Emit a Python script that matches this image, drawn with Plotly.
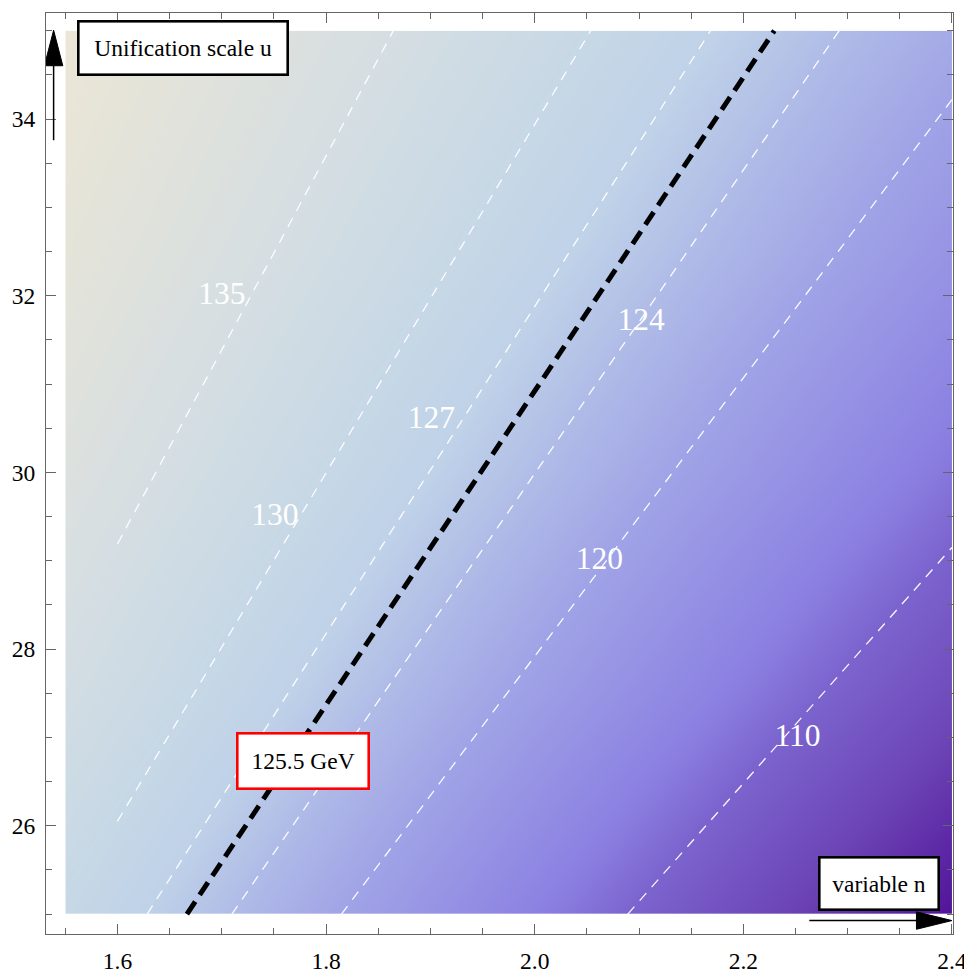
import plotly.graph_objects as go

# ---- background field: Higgs mass (GeV) estimated on a coarse grid ----
n_grid = [1.55, 1.7625, 1.975, 2.1875, 2.40]
u_grid = [25.0, 27.5, 30.0, 32.5, 35.0]
mass_grid = [
    [129.8, 122.0, 114.2, 106.4, 98.6],
    [134.1, 127.0, 120.0, 112.9, 105.9],
    [137.6, 131.2, 124.8, 118.3, 111.9],
    [140.6, 134.7, 128.8, 122.9, 117.0],
    [143.1, 137.6, 132.2, 126.7, 121.2],
]

# ---- labelled contour lines (white dashed), endpoints ----
contour_levels = [135, 130, 127, 124, 120, 110]
contour_n = [[1.600, 1.8645], [1.600, 2.0538], [1.6285, 2.1686],
             [1.7097, 2.2919], [1.8148, 2.400], [2.0892, 2.400]]
contour_u = [[29.19, 35.0], [26.05, 35.0], [25.0, 35.0],
             [25.0, 35.0], [25.0, 34.22], [25.0, 29.15]]
label_n = [1.700, 1.751, 1.901, 2.102, 2.062, 2.252]
label_u = [31.99, 29.49, 30.59, 31.70, 29.00, 26.99]

# ---- 125.5 GeV line (thick black dashed) ----
target_n = [1.6666, 2.2297]
target_u = [25.0, 35.0]

x_ticks = [1.6, 1.8, 2.0, 2.2, 2.4]
y_ticks = [26, 28, 30, 32, 34]

FONT = "Liberation Serif"

colorscale = [
    [0.000, "#4C0C8E"],
    [0.013, "#52149A"],
    [0.141, "#6C44B5"],
    [0.261, "#7C64CE"],
    [0.326, "#8B80E2"],
    [0.478, "#A0A3E6"],
    [0.565, "#B0BCE7"],
    [0.630, "#BFD2E8"],
    [0.717, "#C9D9E5"],
    [0.804, "#D5DEE2"],
    [0.891, "#E0E2DB"],
    [1.000, "#EEE7D6"],
]

fig = go.Figure()

fig.add_trace(go.Contour(
    x=n_grid, y=u_grid, z=mass_grid,
    zmin=98, zmax=144, colorscale=colorscale,
    contours=dict(coloring="heatmap", showlines=False),
    line=dict(width=0), showscale=False, hoverinfo="skip",
))

for lev, xs, ys in zip(contour_levels, contour_n, contour_u):
    fig.add_trace(go.Scatter(
        x=xs, y=ys, mode="lines", showlegend=False, hoverinfo="skip",
        line=dict(color="rgba(255,255,255,0.95)", width=1.3, dash="10px,8px"),
    ))

fig.add_trace(go.Scatter(
    x=target_n, y=target_u, mode="lines", showlegend=False, hoverinfo="skip",
    line=dict(color="black", width=5, dash="15px,8px"),
))

fig.add_trace(go.Scatter(
    x=label_n, y=label_u, mode="text", text=[str(v) for v in contour_levels],
    textfont=dict(family=FONT, size=31.5, color="white"),
    showlegend=False, hoverinfo="skip",
))

annotations = [
    dict(x=1.6628, y=34.80, text="Unification scale u", bordercolor="black",
         borderwidth=2.6, width=207, height=51),
    dict(x=1.7775, y=26.736, text="125.5 GeV", bordercolor="#FF0000",
         borderwidth=2.6, width=129, height=53),
    dict(x=2.3304, y=25.348, text="variable n", bordercolor="black",
         borderwidth=2.6, width=117, height=50),
]
for a in annotations:
    a.update(xref="x", yref="y", showarrow=False, bgcolor="white", borderpad=0,
             font=dict(family=FONT, size=23.5, color="black"),
             xanchor="center", yanchor="middle")

shapes = [
    # vertical axis arrow (u)
    dict(type="line", xref="x", yref="y", x0=1.5388, x1=1.5388, y0=33.76, y1=34.70,
         line=dict(color="black", width=1.5)),
    dict(type="path", xref="x", yref="y", xsizemode="pixel", ysizemode="pixel",
         xanchor=1.5388, yanchor=35.005, path="M 0 0 L -9.2 -35.5 L 9.2 -35.5 Z",
         fillcolor="black", line=dict(color="black", width=1)),
    # horizontal axis arrow (n)
    dict(type="line", xref="x", yref="y", x0=2.2632, x1=2.370, y0=24.927, y1=24.927,
         line=dict(color="black", width=1.5)),
    dict(type="path", xref="x", yref="y", xsizemode="pixel", ysizemode="pixel",
         xanchor=2.4, yanchor=24.927, path="M 0 0 L -35.5 8.7 L -35.5 -8.7 Z",
         fillcolor="black", line=dict(color="black", width=1)),
]

axis_common = dict(
    showgrid=False, zeroline=False, showline=True, linecolor="#666666", linewidth=1.3,
    mirror="allticks", ticks="inside", tickcolor="#666666", tickwidth=1.2,
    tickfont=dict(family=FONT, size=23.5, color="black"),
    ticklabeloverflow="allow",
)

fig.update_layout(
    width=978, height=986,
    margin=dict(l=39, r=11.5, t=13, b=26),
    paper_bgcolor="white", plot_bgcolor="white",
    showlegend=False,
    xaxis=dict(range=[1.5315, 2.401], tickvals=x_ticks,
               ticktext=[f"{v:.1f}" for v in x_ticks], ticklen=10,
               ticklabelstandoff=6,
               minor=dict(dtick=0.05, tick0=1.55, ticklen=6, ticks="inside",
                          tickcolor="#666666", tickwidth=1.1),
               **axis_common),
    yaxis=dict(range=[24.775, 35.2], tickvals=y_ticks,
               ticktext=[str(v) for v in y_ticks], ticklen=10,
               ticklabelstandoff=5,
               minor=dict(dtick=0.5, tick0=25, ticklen=6, ticks="inside",
                          tickcolor="#666666", tickwidth=1.1),
               **axis_common),
    annotations=annotations,
    shapes=shapes,
)

fig.write_html(
    "out.html",
    config={"displayModeBar": False},
    post_script="document.body.style.margin='0px';document.body.style.overflow='hidden';",
)
